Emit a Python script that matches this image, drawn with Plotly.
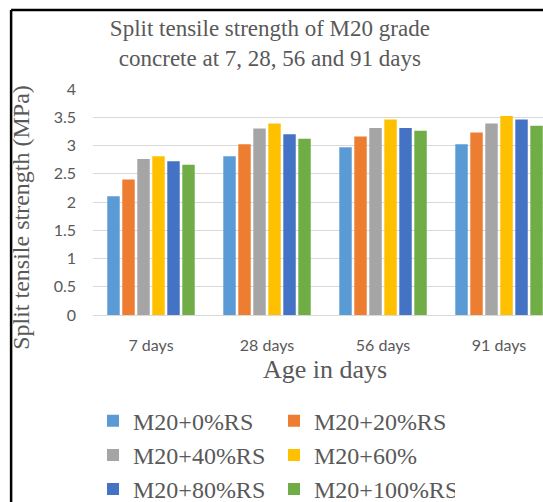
import plotly.graph_objects as go

categories = ["7 days", "28 days", "56 days", "91 days"]
series_names = ["M20+0%RS", "M20+20%RS", "M20+40%RS", "M20+60%", "M20+80%RS", "M20+100%RS"]
rs0 = [2.10, 2.81, 2.97, 3.02]
rs20 = [2.40, 3.02, 3.16, 3.23]
rs40 = [2.76, 3.30, 3.31, 3.39]
rs60 = [2.81, 3.39, 3.46, 3.52]
rs80 = [2.72, 3.20, 3.31, 3.46]
rs100 = [2.66, 3.12, 3.26, 3.35]
y_ticks = [0, 0.5, 1, 1.5, 2, 2.5, 3, 3.5, 4]
y_tick_text = ["0", "0.5", "1", "1.5", "2", "2.5", "3", "3.5", "4"]
title_text = "Split tensile strength of M20 grade<br>concrete at 7, 28, 56 and 91 days"
x_title = "Age in days"
y_title = "Split tensile strength (MPa)"

colors = ["#5B9BD5", "#ED7D31", "#A5A5A5", "#FFC000", "#4472C4", "#70AD47"]
values = [rs0, rs20, rs40, rs60, rs80, rs100]

fig = go.Figure()
for name, vals, col in zip(series_names, values, colors):
    fig.add_trace(go.Bar(x=categories, y=vals, name=name, marker=dict(color=col, line=dict(width=0))))

serif = "Liberation Serif"
sans = "Lato"
gray = "#595959"

fig.update_layout(
    width=543, height=502,
    margin=dict(l=93, r=0, t=89, b=187, autoexpand=False),
    paper_bgcolor="white", plot_bgcolor="white",
    barmode="group", bargap=0.224, bargroupgap=0.17,
    title=dict(text=title_text,
               x=0.497, xanchor="center", y=0.928, yanchor="top", yref="container",
               font=dict(family=serif, size=23, color=gray)),
    xaxis=dict(range=[-0.5, 3.379], showgrid=False, showline=True, linecolor="#D9D9D9", linewidth=1,
               ticks="", ticklabelstandoff=16,
               tickfont=dict(family=sans, size=16, color=gray)),
    yaxis=dict(range=[0, 4], tickvals=y_ticks, ticktext=y_tick_text, showgrid=True, gridcolor="#D9D9D9",
               gridwidth=1, zeroline=False, showline=False, ticks="", ticklabelstandoff=16,
               tickfont=dict(family=sans, size=16, color=gray)),
    legend=dict(orientation="h", x=0, xanchor="left", y=-0.37, yanchor="top",
                entrywidth=136, entrywidthmode="pixels", itemwidth=30,
                font=dict(family=serif, size=24, color=gray), bgcolor="rgba(0,0,0,0)",
                tracegroupgap=0),
    annotations=[
        dict(text=x_title, xref="paper", yref="paper", x=0.5156, y=-0.243, xanchor="center", yanchor="middle",
             showarrow=False, font=dict(family=serif, size=26, color=gray)),
        dict(text=y_title, xref="paper", yref="paper", x=-0.16, y=0.43, xanchor="center", yanchor="middle",
             textangle=-90, showarrow=False, font=dict(family=serif, size=24, color=gray)),
    ],
    shapes=[
        dict(type="line", xref="paper", yref="paper", x0=-0.182, x1=1.1, y0=1.3496, y1=1.3496,
             line=dict(color="black", width=2.5)),
        dict(type="line", xref="paper", yref="paper", x0=-0.182, x1=-0.182, y0=1.3496, y1=-1.0,
             line=dict(color="black", width=2.5)),
    ],
)

fig.write_html("out.html")
